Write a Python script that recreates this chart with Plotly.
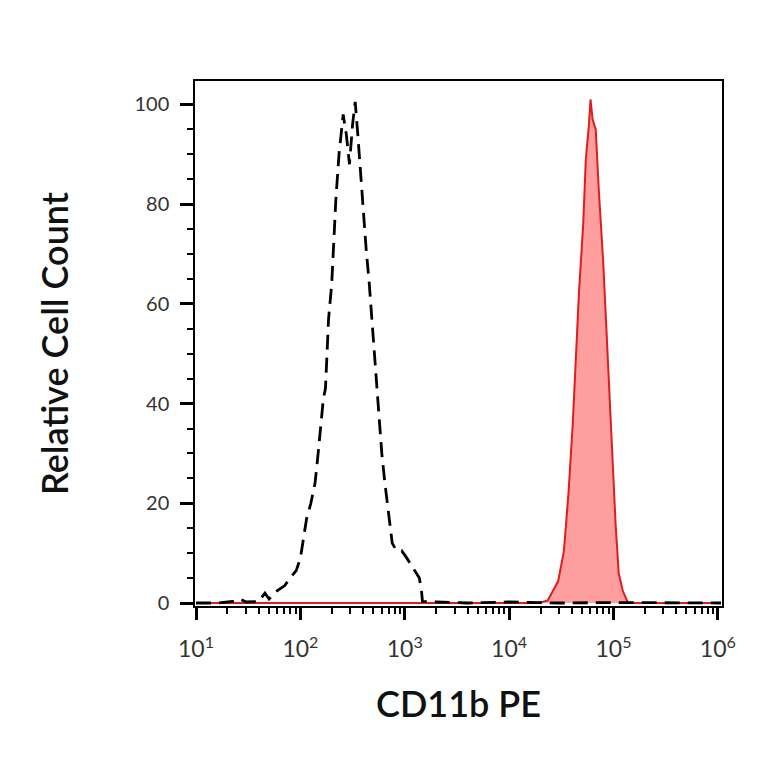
import numpy as np
import plotly.graph_objects as go

# isotype control (dashed) - log10 fluorescence vs relative count
iso_log = [1.00, 1.20, 1.35, 1.42, 1.48, 1.60, 1.66, 1.70, 1.78, 1.85, 1.90, 1.96,
           2.00, 2.03, 2.06, 2.10, 2.14, 2.17, 2.20, 2.22, 2.24, 2.25, 2.27, 2.30,
           2.32, 2.34, 2.37, 2.41, 2.44, 2.47, 2.50, 2.525, 2.55, 2.57, 2.60, 2.63,
           2.66, 2.69, 2.72, 2.75, 2.78, 2.81, 2.85, 2.88, 2.92, 2.97, 3.02, 3.08,
           3.14, 3.16, 3.17, 3.30, 3.60, 4.00, 4.50, 5.00, 5.50, 6.03]
iso_count = [0, 0, 0.3, 0.8, 0.2, 0.3, 2.0, 0.8, 2.5, 3.5, 5.0, 6.5,
             9, 13.5, 17, 20, 24, 30, 36, 41, 43, 49, 57, 64,
             73, 81, 90, 98, 94, 88, 96, 100.5, 94, 88, 80, 71,
             64, 55, 46, 38, 30, 24, 17, 12, 10.5, 10.5, 9.0, 7,
             5, 2.5, 0.3, 0.2, 0, 0.2, 0, 0.1, 0, 0]

# CD11b PE stained sample (red filled)
cd_log = [1.00, 2.00, 3.00, 4.00, 4.285, 4.37, 4.47, 4.525, 4.57, 4.61, 4.64,
          4.67, 4.71, 4.735, 4.765, 4.78, 4.80, 4.83, 4.86, 4.90, 4.93, 4.96,
          4.99, 5.02, 5.05, 5.09, 5.14, 5.50, 6.03]
cd_count = [0, 0, 0, 0, 0, 0.5, 4.4, 10.4, 22.4, 36, 49,
            62.5, 76, 89, 96, 101, 97, 95, 82.6, 69, 56, 42.5,
            29, 16, 6, 2.4, 0, 0, 0]

tick_vals = [1e1, 1e2, 1e3, 1e4, 1e5, 1e6]
tick_text = ["10<sup>1</sup>", "10<sup>2</sup>", "10<sup>3</sup>",
             "10<sup>4</sup>", "10<sup>5</sup>", "10<sup>6</sup>"]

fig = go.Figure()
fig.add_scatter(x=10 ** np.array(cd_log), y=cd_count, mode="lines",
                fill="tozeroy", fillcolor="rgba(255,125,125,0.75)",
                line=dict(color="rgb(222,30,30)", width=2))
fig.add_scatter(x=10 ** np.array(iso_log), y=iso_count, mode="lines",
                line=dict(color="black", width=2.8, dash="15px,8px"))

title_font = dict(family="Lato", size=36, color="#111", weight=600)
fig.update_layout(
    width=764, height=764,
    plot_bgcolor="white", paper_bgcolor="white",
    showlegend=False,
    margin=dict(l=187, r=50, t=73, b=166),
    xaxis=dict(type="log", range=[0.99, 6.04], tickvals=tick_vals, ticktext=tick_text,
               ticks="outside", ticklen=12, tickwidth=3, tickcolor="black",
               minor=dict(ticks="outside", ticklen=6, tickwidth=1.5, tickcolor="black", dtick="D1"),
               showline=True, linecolor="black", linewidth=1.5, mirror=True,
               showgrid=False, zeroline=False, ticklabelstandoff=10,
               tickfont=dict(family="Lato", size=23, color="#333"),
               title=dict(text="CD11b PE", font=title_font, standoff=30)),
    yaxis=dict(range=[-0.6, 104.7], tick0=0, dtick=20,
               ticks="outside", ticklen=13, tickwidth=3, tickcolor="black",
               minor=dict(ticks="outside", ticklen=6, tickwidth=1.5, tickcolor="black", dtick=5),
               showline=True, linecolor="black", linewidth=1.5, mirror=True,
               showgrid=False, zeroline=False, ticklabelstandoff=7,
               tickfont=dict(family="Lato", size=20, color="#333"),
               title=dict(text="Relative Cell Count", font=title_font, standoff=55)),
)

fig.write_html("out.html")
